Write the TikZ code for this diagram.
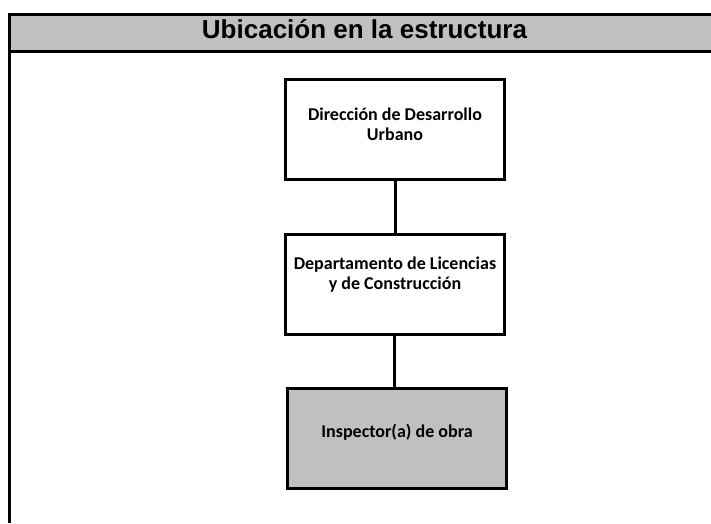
\documentclass[tikz,border=0pt]{standalone}
\usepackage{fontspec}
\setmainfont{Carlito}
\newfontfamily\hdrfont{Liberation Sans}
\definecolor{hdrgray}{RGB}{192,192,192}
\begin{document}
\begin{tikzpicture}[x=1pt,y=1pt,
  box/.style={draw=black,line width=3pt,minimum width=219pt,minimum height=100pt,inner sep=0pt},
  lbl/.style={font=\fontsize{18}{20}\selectfont\bfseries,align=center,anchor=center,inner sep=0pt},
  conn/.style={line width=3pt}]
\useasboundingbox (0,0) rectangle (711,-523);
% header
\fill[hdrgray] (9.5,-14.5) rectangle (711,-51.5);
\draw[line width=3pt] (711,-14.5) -- (9.5,-14.5) -- (9.5,-523);
\draw[line width=3pt] (9.5,-51.5) -- (711,-51.5);
\node[font=\hdrfont\fontsize{26}{30}\selectfont\bfseries,anchor=base,inner sep=0pt] (hdr) at (364.5,-38.5) {Ubicación en la estructura};
% boxes
\node[box,fill=white] (b1) at (395,-129.5) {};
\node[box,fill=white] (b2) at (394.5,-284.5) {};
\node[box,fill=hdrgray] (b3) at (396.5,-438) {};
\node[lbl] (t1) at (395,-124) {Dirección de Desarrollo\\Urbano};
\node[lbl] (t2) at (395,-275) {Departamento de Licencias\\y de Construcción};
\node[lbl] (t3) at (397,-432) {Inspector(a) de obra};
% connectors
\draw[conn] (b1.south) -- (b1.south |- b2.north);
\draw[conn] (b2.south) -- (b2.south |- b3.north);
\end{tikzpicture}
\end{document}
